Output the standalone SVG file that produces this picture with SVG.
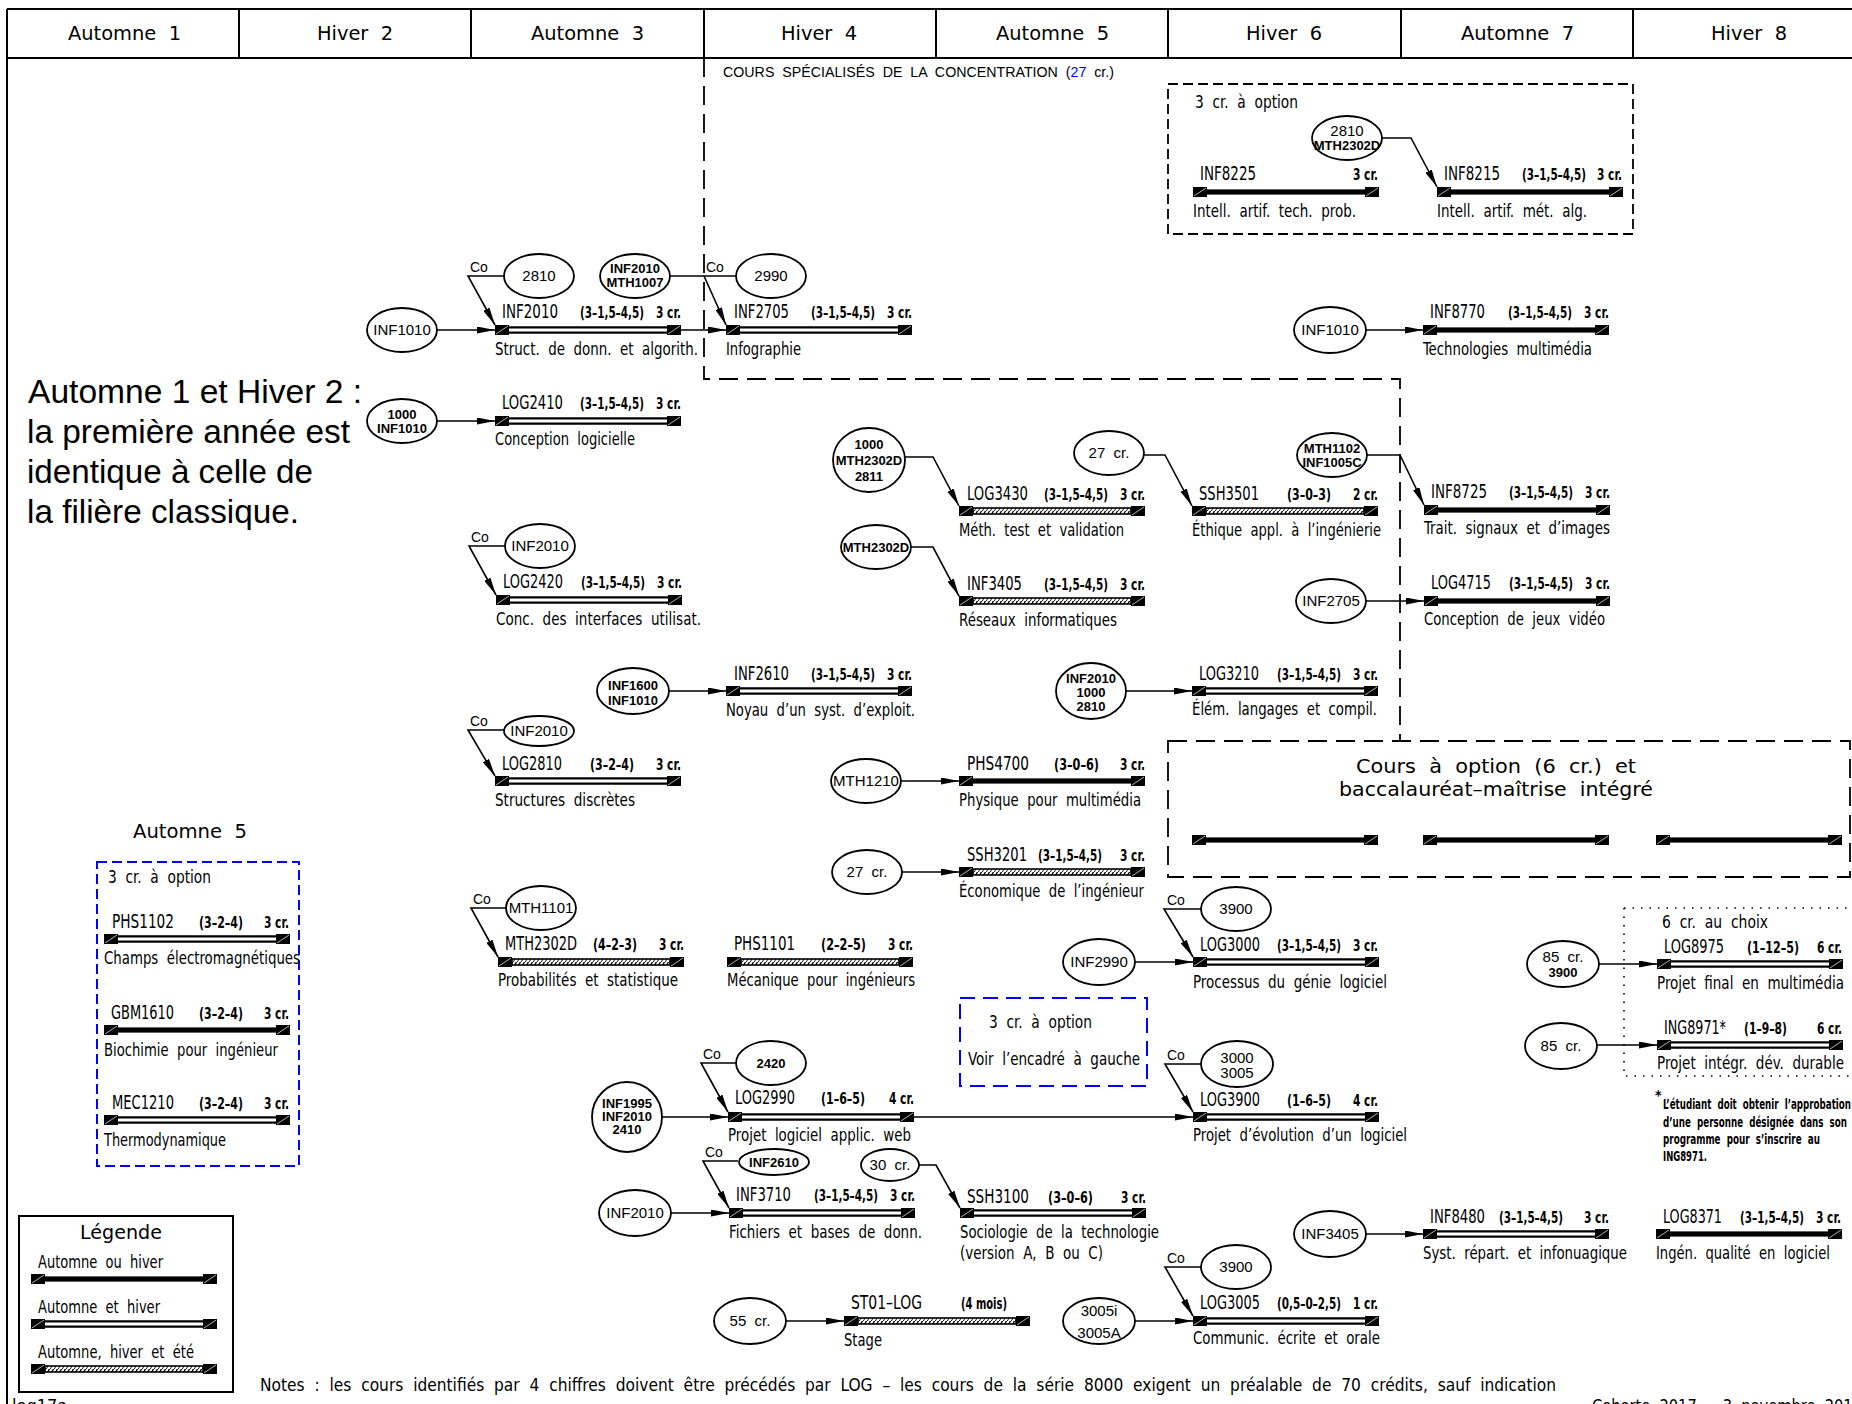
<svg xmlns="http://www.w3.org/2000/svg" width="1852" height="1404" viewBox="0 0 1852 1404" xml:space="preserve">
<style>
text{white-space:pre}
.hd{font-family:"DejaVu Sans","Liberation Sans",sans-serif;font-size:20px;fill:#000}
.cad{font-family:"Liberation Sans Narrow","DejaVu Sans Condensed","Liberation Sans",sans-serif;font-size:18px;fill:#000}
.code{font-size:19px}
.par{font-size:15px;font-weight:bold}
.fn{font-size:14px;font-weight:bold}
.el{font-family:"Liberation Sans","DejaVu Sans",sans-serif;font-size:15px;fill:#000;text-anchor:middle}
.el2{font-size:13px;font-weight:bold}
.co{font-family:"Liberation Sans",sans-serif;font-size:14px}
.big{font-family:"Liberation Sans",Arial,sans-serif;font-size:33px;fill:#000}
.conn{stroke:#000;stroke-width:1.6;fill:none}
.arr{marker-end:url(#ah)}
ellipse{fill:#fff;stroke:#000;stroke-width:1.8}
.frame{stroke:#000;stroke-width:2;fill:none}
.dash{stroke:#000;stroke-width:1.8;fill:none;stroke-dasharray:19 9}
.dash2{stroke:#000;stroke-width:1.8;fill:none;stroke-dasharray:10 5}
.blue{stroke:#0000ff;stroke-width:2;fill:none}
.sq{fill:#000}
.sd{stroke:#fff;stroke-width:0.7;fill:none}
</style>
<defs>
<marker id="ah" viewBox="0 0 18 7" refX="18" refY="3.5" markerWidth="18" markerHeight="7" markerUnits="userSpaceOnUse" orient="auto"><path d="M0,0 L18,3.5 L0,7 z" fill="#000"/></marker>
<pattern id="hatch" width="4" height="6" patternUnits="userSpaceOnUse"><rect width="4" height="6" fill="#fff"/><path d="M-1,6 L3,-1 M3,7 L7,0" stroke="#000" stroke-width="1.3"/></pattern>
<g id="sqs"><rect class="sq" x="0" y="-5" width="14" height="10"/><rect class="sq" x="172" y="-5" width="14" height="10"/><path class="sd" d="M1,4 L13,-4 M173,4 L185,-4"/></g>
<g id="bA"><use href="#sqs"/><rect x="14" y="-2.6" width="158" height="5.2" fill="#000"/></g>
<g id="bB"><use href="#sqs"/><path d="M14,-2.6 H172 M14,2.6 H172" stroke="#000" stroke-width="2.3"/></g>
<g id="bC"><use href="#sqs"/><rect x="14" y="-3" width="158" height="6" fill="url(#hatch)" stroke="#000" stroke-width="1.6"/></g>
</defs>
<rect width="1852" height="1404" fill="#fff"/>

<g id="header">
<path class="frame" d="M7,9 H1852 M7,58 H1852 M7,9 V1404 M239,9 V58 M471,9 V58 M704,9 V58 M936,9 V58 M1168,9 V58 M1401,9 V58 M1633,9 V58"/>
<text class="hd" x="68" y="40" textLength="113" lengthAdjust="spacingAndGlyphs">Automne  1</text>
<text class="hd" x="317" y="40" textLength="76" lengthAdjust="spacingAndGlyphs">Hiver  2</text>
<text class="hd" x="531" y="40" textLength="113" lengthAdjust="spacingAndGlyphs">Automne  3</text>
<text class="hd" x="781" y="40" textLength="76" lengthAdjust="spacingAndGlyphs">Hiver  4</text>
<text class="hd" x="996" y="40" textLength="113" lengthAdjust="spacingAndGlyphs">Automne  5</text>
<text class="hd" x="1246" y="40" textLength="76" lengthAdjust="spacingAndGlyphs">Hiver  6</text>
<text class="hd" x="1461" y="40" textLength="113" lengthAdjust="spacingAndGlyphs">Automne  7</text>
<text class="hd" x="1711" y="40" textLength="76" lengthAdjust="spacingAndGlyphs">Hiver  8</text>
</g>

<g id="regions">
<path class="dash" d="M704,58 V379 H1400 V741"/>
<text x="723" y="77" font-family="Liberation Sans,sans-serif" font-size="15" textLength="391" lengthAdjust="spacingAndGlyphs">COURS  SPÉCIALISÉS  DE  LA  CONCENTRATION  (<tspan fill="#0000ff">27</tspan>  cr.)</text>
<rect class="dash2" x="1168" y="84" width="465" height="150"/>
<text class="cad" x="1195" y="108" textLength="103" lengthAdjust="spacingAndGlyphs">3  cr.  à  option</text>
<rect class="dash" x="1168" y="741" width="682" height="136"/>
<text class="hd" x="1356" y="773" textLength="280" lengthAdjust="spacingAndGlyphs">Cours  à  option  (6  cr.)  et</text>
<text class="hd" x="1339" y="796" textLength="314" lengthAdjust="spacingAndGlyphs">baccalauréat–maîtrise  intégré</text>
<use href="#bA" x="1192" y="840"/>
<use href="#bA" x="1423" y="840"/>
<use href="#bA" x="1656" y="840"/>
<path d="M1624,908 H1852 M1624,908 V1076 H1852" stroke="#000" stroke-width="1.6" fill="none" stroke-dasharray="1.5 7"/>
<text class="cad" x="1662" y="928" textLength="106" lengthAdjust="spacingAndGlyphs">6  cr.  au  choix</text>
<rect class="blue" x="960" y="998" width="187" height="88" stroke-dasharray="15 8"/>
<text class="cad" x="989" y="1028" textLength="103" lengthAdjust="spacingAndGlyphs">3  cr.  à  option</text>
<text class="cad" x="968" y="1065" textLength="172" lengthAdjust="spacingAndGlyphs">Voir  l’encadré  à  gauche</text>
<text class="hd" x="133" y="838" textLength="114" lengthAdjust="spacingAndGlyphs">Automne  5</text>
<rect class="blue" x="97" y="862" width="202" height="304" stroke-dasharray="10 5"/>
<text class="cad" x="108" y="883" textLength="103" lengthAdjust="spacingAndGlyphs">3  cr.  à  option</text>
</g>

<g id="intro">
<text class="big" x="28" y="403" textLength="334" lengthAdjust="spacingAndGlyphs">Automne 1 et Hiver 2 :</text>
<text class="big" x="27" y="443" textLength="323" lengthAdjust="spacingAndGlyphs">la première année est</text>
<text class="big" x="27" y="483" textLength="286" lengthAdjust="spacingAndGlyphs">identique à celle de</text>
<text class="big" x="27" y="523" textLength="272" lengthAdjust="spacingAndGlyphs">la filière classique.</text>
</g>

<g id="connectors">
<path class="conn arr" d="M437,330 H495"/>
<path class="conn arr" d="M437,421 H495"/>
<path class="conn arr" d="M681,330 H726"/>
<path class="conn arr" d="M1366,330 H1423"/>
<path class="conn arr" d="M1366,601 H1424"/>
<path class="conn arr" d="M669,691 H726"/>
<path class="conn arr" d="M1126,691 H1192"/>
<path class="conn arr" d="M901,781 H959"/>
<path class="conn arr" d="M902,872 H959"/>
<path class="conn arr" d="M1135,962 H1193"/>
<path class="conn arr" d="M1599,964 H1657"/>
<path class="conn arr" d="M1597,1045 H1657"/>
<path class="conn arr" d="M662,1117 H728"/>
<path class="conn arr" d="M914,1117 H1193"/>
<path class="conn arr" d="M671,1213 H729"/>
<path class="conn arr" d="M1366,1234 H1423"/>
<path class="conn arr" d="M786,1321 H844"/>
<path class="conn arr" d="M1135,1321 H1193"/>
<path class="conn arr" d="M1381,138 H1411 L1437,187"/>
<path class="conn arr" d="M905,457 H933 L959,506"/>
<path class="conn arr" d="M1144,455 H1165 L1192,506"/>
<path class="conn arr" d="M1367,455 H1400 L1424,505"/>
<path class="conn arr" d="M911,547 H933 L959,596"/>
<path class="conn arr" d="M919,1165 H936 L960,1208"/>
<path class="conn arr" d="M504,276 H468 L495,325"/>
<path class="conn" d="M670,276 H736"/>
<path class="conn arr" d="M704,276 L726,325"/>
<path class="conn arr" d="M505,546 H469 L496,595"/>
<path class="conn arr" d="M504,730 H468 L495,776"/>
<path class="conn arr" d="M506,908 H471 L498,957"/>
<path class="conn arr" d="M1201,909 H1164 L1193,957"/>
<path class="conn arr" d="M736,1063 H701 L728,1112"/>
<path class="conn arr" d="M1201,1064 H1165 L1193,1112"/>
<path class="conn arr" d="M738,1161 H703 L729,1208"/>
<path class="conn arr" d="M1201,1267 H1165 L1193,1316"/>
<g class="co">
<text x="470" y="272">Co</text>
<text x="706" y="272">Co</text>
<text x="471" y="542">Co</text>
<text x="470" y="726">Co</text>
<text x="473" y="904">Co</text>
<text x="1167" y="905">Co</text>
<text x="703" y="1059">Co</text>
<text x="1167" y="1060">Co</text>
<text x="705" y="1157">Co</text>
<text x="1167" y="1263">Co</text>
</g>
</g>

<g id="prereqs">
<g id="e1"><ellipse cx="402" cy="330" rx="35" ry="22"/><text class="el" x="402" y="335">INF1010</text></g>
<g id="e2"><ellipse cx="402" cy="421" rx="35" ry="22"/><text class="el el2" x="402" y="419">1000</text><text class="el el2" x="402" y="433">INF1010</text></g>
<g id="e3"><ellipse cx="539" cy="276" rx="35" ry="22"/><text class="el" x="539" y="281">2810</text></g>
<g id="e4"><ellipse cx="635" cy="276" rx="35" ry="22"/><text class="el el2" x="635" y="273">INF2010</text><text class="el el2" x="635" y="287">MTH1007</text></g>
<g id="e5"><ellipse cx="771" cy="276" rx="35" ry="22"/><text class="el" x="771" y="281">2990</text></g>
<g id="e6"><ellipse cx="1347" cy="138" rx="35" ry="22"/><text class="el" x="1347" y="136">2810</text><text class="el el2" x="1347" y="150">MTH2302D</text></g>
<g id="e7"><ellipse cx="1330" cy="330" rx="36" ry="23"/><text class="el" x="1330" y="335">INF1010</text></g>
<g id="e8"><ellipse cx="869" cy="460" rx="36" ry="32"/><text class="el el2" x="869" y="449" font-size="12">1000</text><text class="el el2" x="869" y="465" font-size="12">MTH2302D</text><text class="el el2" x="869" y="481" font-size="12">2811</text></g>
<g id="e9"><ellipse cx="1109" cy="453" rx="35" ry="22"/><text class="el" x="1109" y="458">27  cr.</text></g>
<g id="e10"><ellipse cx="1332" cy="455" rx="35" ry="22"/><text class="el el2" x="1332" y="453">MTH1102</text><text class="el el2" x="1332" y="467">INF1005C</text></g>
<g id="e11"><ellipse cx="540" cy="546" rx="35" ry="22"/><text class="el" x="540" y="551">INF2010</text></g>
<g id="e12"><ellipse cx="876" cy="547" rx="35" ry="22"/><text class="el el2" x="876" y="552">MTH2302D</text></g>
<g id="e13"><ellipse cx="1331" cy="601" rx="35" ry="22"/><text class="el" x="1331" y="606">INF2705</text></g>
<g id="e14"><ellipse cx="633" cy="691" rx="36" ry="23"/><text class="el el2" x="633" y="690">INF1600</text><text class="el el2" x="633" y="705">INF1010</text></g>
<g id="e15"><ellipse cx="1091" cy="691" rx="35" ry="28"/><text class="el el2" x="1091" y="683">INF2010</text><text class="el el2" x="1091" y="697">1000</text><text class="el el2" x="1091" y="711">2810</text></g>
<g id="e16"><ellipse cx="539" cy="731" rx="35" ry="15"/><text class="el" x="539" y="736">INF2010</text></g>
<g id="e17"><ellipse cx="866" cy="781" rx="35" ry="22"/><text class="el" x="866" y="786">MTH1210</text></g>
<g id="e18"><ellipse cx="867" cy="872" rx="35" ry="22"/><text class="el" x="867" y="877">27  cr.</text></g>
<g id="e19"><ellipse cx="541" cy="908" rx="35" ry="22"/><text class="el" x="541" y="913">MTH1101</text></g>
<g id="e20"><ellipse cx="1236" cy="909" rx="35" ry="22"/><text class="el" x="1236" y="914">3900</text></g>
<g id="e21"><ellipse cx="1099" cy="962" rx="36" ry="23"/><text class="el" x="1099" y="967">INF2990</text></g>
<g id="e22"><ellipse cx="1563" cy="964" rx="36" ry="23"/><text class="el" x="1563" y="962">85  cr.</text><text class="el el2" x="1563" y="977">3900</text></g>
<g id="e23"><ellipse cx="1561" cy="1046" rx="36" ry="23"/><text class="el" x="1561" y="1051">85  cr.</text></g>
<g id="e24"><ellipse cx="771" cy="1063" rx="35" ry="22"/><text class="el el2" x="771" y="1068">2420</text></g>
<g id="e25"><ellipse cx="1237" cy="1064" rx="36" ry="23"/><text class="el" x="1237" y="1063">3000</text><text class="el" x="1237" y="1078">3005</text></g>
<g id="e26"><ellipse cx="627" cy="1117" rx="35" ry="35"/><text class="el el2" x="627" y="1108">INF1995</text><text class="el el2" x="627" y="1121">INF2010</text><text class="el el2" x="627" y="1134">2410</text></g>
<g id="e27"><ellipse cx="774" cy="1162" rx="35" ry="13"/><text class="el el2" x="774" y="1167">INF2610</text></g>
<g id="e28"><ellipse cx="890" cy="1165" rx="29" ry="16"/><text class="el" x="890" y="1170">30  cr.</text></g>
<g id="e29"><ellipse cx="635" cy="1213" rx="36" ry="23"/><text class="el" x="635" y="1218">INF2010</text></g>
<g id="e30"><ellipse cx="1330" cy="1234" rx="36" ry="23"/><text class="el" x="1330" y="1239">INF3405</text></g>
<g id="e31"><ellipse cx="750" cy="1321" rx="36" ry="23"/><text class="el" x="750" y="1326">55  cr.</text></g>
<g id="e32"><ellipse cx="1099" cy="1321" rx="36" ry="23"/><text class="el" x="1099" y="1316">3005i</text><text class="el" x="1099" y="1338">3005A</text></g>
<g id="e33"><ellipse cx="1236" cy="1267" rx="35" ry="22"/><text class="el" x="1236" y="1272">3900</text></g>
</g>

<g id="courses">
<g id="INF2010"><use href="#bB" x="495" y="330"/><text class="cad code" x="502" y="318" textLength="56" lengthAdjust="spacingAndGlyphs">INF2010</text><text class="cad par" x="580" y="318" textLength="64" lengthAdjust="spacingAndGlyphs">(3–1,5–4,5)</text><text class="cad par" x="656" y="318" textLength="25" lengthAdjust="spacingAndGlyphs">3 cr.</text><text class="cad" x="495" y="355" textLength="203" lengthAdjust="spacingAndGlyphs">Struct.  de  donn.  et  algorith.</text></g>
<g id="INF2705"><use href="#bB" x="726" y="330"/><text class="cad code" x="734" y="318" textLength="55" lengthAdjust="spacingAndGlyphs">INF2705</text><text class="cad par" x="811" y="318" textLength="64" lengthAdjust="spacingAndGlyphs">(3–1,5–4,5)</text><text class="cad par" x="887" y="318" textLength="25" lengthAdjust="spacingAndGlyphs">3 cr.</text><text class="cad" x="726" y="355" textLength="75" lengthAdjust="spacingAndGlyphs">Infographie</text></g>
<g id="LOG2410"><use href="#bB" x="495" y="421"/><text class="cad code" x="502" y="409" textLength="61" lengthAdjust="spacingAndGlyphs">LOG2410</text><text class="cad par" x="580" y="409" textLength="64" lengthAdjust="spacingAndGlyphs">(3–1,5–4,5)</text><text class="cad par" x="656" y="409" textLength="25" lengthAdjust="spacingAndGlyphs">3 cr.</text><text class="cad" x="495" y="445" textLength="140" lengthAdjust="spacingAndGlyphs">Conception  logicielle</text></g>
<g id="INF8225"><use href="#bA" x="1193" y="192"/><text class="cad code" x="1200" y="180" textLength="56" lengthAdjust="spacingAndGlyphs">INF8225</text><text class="cad par" x="1353" y="180" textLength="25" lengthAdjust="spacingAndGlyphs">3 cr.</text><text class="cad" x="1193" y="217" textLength="163" lengthAdjust="spacingAndGlyphs">Intell.  artif.  tech.  prob.</text></g>
<g id="INF8215"><use href="#bA" x="1437" y="192"/><text class="cad code" x="1444" y="180" textLength="56" lengthAdjust="spacingAndGlyphs">INF8215</text><text class="cad par" x="1522" y="180" textLength="64" lengthAdjust="spacingAndGlyphs">(3–1,5–4,5)</text><text class="cad par" x="1597" y="180" textLength="25" lengthAdjust="spacingAndGlyphs">3 cr.</text><text class="cad" x="1437" y="217" textLength="150" lengthAdjust="spacingAndGlyphs">Intell.  artif.  mét.  alg.</text></g>
<g id="INF8770"><use href="#bA" x="1423" y="330"/><text class="cad code" x="1430" y="318" textLength="55" lengthAdjust="spacingAndGlyphs">INF8770</text><text class="cad par" x="1508" y="318" textLength="64" lengthAdjust="spacingAndGlyphs">(3–1,5–4,5)</text><text class="cad par" x="1584" y="318" textLength="25" lengthAdjust="spacingAndGlyphs">3 cr.</text><text class="cad" x="1423" y="355" textLength="169" lengthAdjust="spacingAndGlyphs">Technologies  multimédia</text></g>
<g id="LOG3430"><use href="#bC" x="959" y="511"/><text class="cad code" x="967" y="500" textLength="61" lengthAdjust="spacingAndGlyphs">LOG3430</text><text class="cad par" x="1044" y="500" textLength="64" lengthAdjust="spacingAndGlyphs">(3–1,5–4,5)</text><text class="cad par" x="1120" y="500" textLength="25" lengthAdjust="spacingAndGlyphs">3 cr.</text><text class="cad" x="959" y="536" textLength="165" lengthAdjust="spacingAndGlyphs">Méth.  test  et  validation</text></g>
<g id="SSH3501"><use href="#bC" x="1192" y="511"/><text class="cad code" x="1199" y="500" textLength="60" lengthAdjust="spacingAndGlyphs">SSH3501</text><text class="cad par" x="1287" y="500" textLength="44" lengthAdjust="spacingAndGlyphs">(3–0–3)</text><text class="cad par" x="1353" y="500" textLength="25" lengthAdjust="spacingAndGlyphs">2 cr.</text><text class="cad" x="1192" y="536" textLength="189" lengthAdjust="spacingAndGlyphs">Éthique  appl.  à  l’ingénierie</text></g>
<g id="INF8725"><use href="#bA" x="1424" y="510"/><text class="cad code" x="1431" y="498" textLength="56" lengthAdjust="spacingAndGlyphs">INF8725</text><text class="cad par" x="1509" y="498" textLength="64" lengthAdjust="spacingAndGlyphs">(3–1,5–4,5)</text><text class="cad par" x="1585" y="498" textLength="25" lengthAdjust="spacingAndGlyphs">3 cr.</text><text class="cad" x="1424" y="534" textLength="186" lengthAdjust="spacingAndGlyphs">Trait.  signaux  et  d’images</text></g>
<g id="LOG2420"><use href="#bB" x="496" y="600"/><text class="cad code" x="503" y="588" textLength="60" lengthAdjust="spacingAndGlyphs">LOG2420</text><text class="cad par" x="581" y="588" textLength="64" lengthAdjust="spacingAndGlyphs">(3–1,5–4,5)</text><text class="cad par" x="657" y="588" textLength="25" lengthAdjust="spacingAndGlyphs">3 cr.</text><text class="cad" x="496" y="625" textLength="205" lengthAdjust="spacingAndGlyphs">Conc.  des  interfaces  utilisat.</text></g>
<g id="INF3405"><use href="#bC" x="959" y="601"/><text class="cad code" x="967" y="590" textLength="55" lengthAdjust="spacingAndGlyphs">INF3405</text><text class="cad par" x="1044" y="590" textLength="64" lengthAdjust="spacingAndGlyphs">(3–1,5–4,5)</text><text class="cad par" x="1120" y="590" textLength="25" lengthAdjust="spacingAndGlyphs">3 cr.</text><text class="cad" x="959" y="626" textLength="158" lengthAdjust="spacingAndGlyphs">Réseaux  informatiques</text></g>
<g id="LOG4715"><use href="#bA" x="1424" y="601"/><text class="cad code" x="1431" y="589" textLength="60" lengthAdjust="spacingAndGlyphs">LOG4715</text><text class="cad par" x="1509" y="589" textLength="64" lengthAdjust="spacingAndGlyphs">(3–1,5–4,5)</text><text class="cad par" x="1585" y="589" textLength="25" lengthAdjust="spacingAndGlyphs">3 cr.</text><text class="cad" x="1424" y="625" textLength="181" lengthAdjust="spacingAndGlyphs">Conception  de  jeux  vidéo</text></g>
<g id="INF2610"><use href="#bB" x="726" y="691"/><text class="cad code" x="734" y="680" textLength="55" lengthAdjust="spacingAndGlyphs">INF2610</text><text class="cad par" x="811" y="680" textLength="64" lengthAdjust="spacingAndGlyphs">(3–1,5–4,5)</text><text class="cad par" x="887" y="680" textLength="25" lengthAdjust="spacingAndGlyphs">3 cr.</text><text class="cad" x="726" y="716" textLength="189" lengthAdjust="spacingAndGlyphs">Noyau  d’un  syst.  d’exploit.</text></g>
<g id="LOG3210"><use href="#bB" x="1192" y="691"/><text class="cad code" x="1199" y="680" textLength="60" lengthAdjust="spacingAndGlyphs">LOG3210</text><text class="cad par" x="1277" y="680" textLength="64" lengthAdjust="spacingAndGlyphs">(3–1,5–4,5)</text><text class="cad par" x="1353" y="680" textLength="25" lengthAdjust="spacingAndGlyphs">3 cr.</text><text class="cad" x="1192" y="715" textLength="185" lengthAdjust="spacingAndGlyphs">Élém.  langages  et  compil.</text></g>
<g id="LOG2810"><use href="#bB" x="495" y="781"/><text class="cad code" x="502" y="770" textLength="60" lengthAdjust="spacingAndGlyphs">LOG2810</text><text class="cad par" x="590" y="770" textLength="44" lengthAdjust="spacingAndGlyphs">(3–2–4)</text><text class="cad par" x="656" y="770" textLength="25" lengthAdjust="spacingAndGlyphs">3 cr.</text><text class="cad" x="495" y="806" textLength="140" lengthAdjust="spacingAndGlyphs">Structures  discrètes</text></g>
<g id="PHS4700"><use href="#bA" x="959" y="781"/><text class="cad code" x="967" y="770" textLength="62" lengthAdjust="spacingAndGlyphs">PHS4700</text><text class="cad par" x="1054" y="770" textLength="45" lengthAdjust="spacingAndGlyphs">(3–0–6)</text><text class="cad par" x="1120" y="770" textLength="25" lengthAdjust="spacingAndGlyphs">3 cr.</text><text class="cad" x="959" y="806" textLength="182" lengthAdjust="spacingAndGlyphs">Physique  pour  multimédia</text></g>
<g id="SSH3201"><use href="#bC" x="959" y="872"/><text class="cad code" x="967" y="861" textLength="60" lengthAdjust="spacingAndGlyphs">SSH3201</text><text class="cad par" x="1038" y="861" textLength="64" lengthAdjust="spacingAndGlyphs">(3–1,5–4,5)</text><text class="cad par" x="1120" y="861" textLength="25" lengthAdjust="spacingAndGlyphs">3 cr.</text><text class="cad" x="959" y="897" textLength="185" lengthAdjust="spacingAndGlyphs">Économique  de  l’ingénieur</text></g>
<g id="MTH2302D"><use href="#bC" x="498" y="962"/><text class="cad code" x="505" y="950" textLength="72" lengthAdjust="spacingAndGlyphs">MTH2302D</text><text class="cad par" x="593" y="950" textLength="44" lengthAdjust="spacingAndGlyphs">(4–2–3)</text><text class="cad par" x="659" y="950" textLength="25" lengthAdjust="spacingAndGlyphs">3 cr.</text><text class="cad" x="498" y="986" textLength="180" lengthAdjust="spacingAndGlyphs">Probabilités  et  statistique</text></g>
<g id="PHS1101"><use href="#bC" x="727" y="962"/><text class="cad code" x="734" y="950" textLength="61" lengthAdjust="spacingAndGlyphs">PHS1101</text><text class="cad par" x="821" y="950" textLength="45" lengthAdjust="spacingAndGlyphs">(2–2–5)</text><text class="cad par" x="888" y="950" textLength="25" lengthAdjust="spacingAndGlyphs">3 cr.</text><text class="cad" x="727" y="986" textLength="188" lengthAdjust="spacingAndGlyphs">Mécanique  pour  ingénieurs</text></g>
<g id="LOG3000"><use href="#bB" x="1193" y="962"/><text class="cad code" x="1200" y="951" textLength="60" lengthAdjust="spacingAndGlyphs">LOG3000</text><text class="cad par" x="1277" y="951" textLength="64" lengthAdjust="spacingAndGlyphs">(3–1,5–4,5)</text><text class="cad par" x="1353" y="951" textLength="25" lengthAdjust="spacingAndGlyphs">3 cr.</text><text class="cad" x="1193" y="988" textLength="194" lengthAdjust="spacingAndGlyphs">Processus  du  génie  logiciel</text></g>
<g id="LOG8975"><use href="#bB" x="1657" y="964"/><text class="cad code" x="1664" y="953" textLength="60" lengthAdjust="spacingAndGlyphs">LOG8975</text><text class="cad par" x="1747" y="953" textLength="52" lengthAdjust="spacingAndGlyphs">(1–12–5)</text><text class="cad par" x="1817" y="953" textLength="25" lengthAdjust="spacingAndGlyphs">6 cr.</text><text class="cad" x="1657" y="989" textLength="187" lengthAdjust="spacingAndGlyphs">Projet  final  en  multimédia</text></g>
<g id="ING8971"><use href="#bB" x="1657" y="1045"/><text class="cad code" x="1664" y="1034" textLength="62" lengthAdjust="spacingAndGlyphs">ING8971*</text><text class="cad par" x="1744" y="1034" textLength="43" lengthAdjust="spacingAndGlyphs">(1–9–8)</text><text class="cad par" x="1817" y="1034" textLength="25" lengthAdjust="spacingAndGlyphs">6 cr.</text><text class="cad" x="1657" y="1069" textLength="187" lengthAdjust="spacingAndGlyphs">Projet  intégr.  dév.  durable</text></g>
<g id="LOG2990"><use href="#bB" x="728" y="1117"/><text class="cad code" x="735" y="1104" textLength="60" lengthAdjust="spacingAndGlyphs">LOG2990</text><text class="cad par" x="821" y="1104" textLength="44" lengthAdjust="spacingAndGlyphs">(1–6–5)</text><text class="cad par" x="889" y="1104" textLength="25" lengthAdjust="spacingAndGlyphs">4 cr.</text><text class="cad" x="728" y="1141" textLength="183" lengthAdjust="spacingAndGlyphs">Projet  logiciel  applic.  web</text></g>
<g id="LOG3900"><use href="#bB" x="1193" y="1117"/><text class="cad code" x="1200" y="1106" textLength="60" lengthAdjust="spacingAndGlyphs">LOG3900</text><text class="cad par" x="1287" y="1106" textLength="44" lengthAdjust="spacingAndGlyphs">(1–6–5)</text><text class="cad par" x="1353" y="1106" textLength="25" lengthAdjust="spacingAndGlyphs">4 cr.</text><text class="cad" x="1193" y="1141" textLength="214" lengthAdjust="spacingAndGlyphs">Projet  d’évolution  d’un  logiciel</text></g>
<g id="INF3710"><use href="#bB" x="729" y="1213"/><text class="cad code" x="736" y="1201" textLength="55" lengthAdjust="spacingAndGlyphs">INF3710</text><text class="cad par" x="814" y="1201" textLength="64" lengthAdjust="spacingAndGlyphs">(3–1,5–4,5)</text><text class="cad par" x="890" y="1201" textLength="25" lengthAdjust="spacingAndGlyphs">3 cr.</text><text class="cad" x="729" y="1238" textLength="193" lengthAdjust="spacingAndGlyphs">Fichiers  et  bases  de  donn.</text></g>
<g id="SSH3100"><use href="#bB" x="960" y="1213"/><text class="cad code" x="967" y="1203" textLength="62" lengthAdjust="spacingAndGlyphs">SSH3100</text><text class="cad par" x="1048" y="1203" textLength="45" lengthAdjust="spacingAndGlyphs">(3–0–6)</text><text class="cad par" x="1121" y="1203" textLength="25" lengthAdjust="spacingAndGlyphs">3 cr.</text><text class="cad" x="960" y="1238" textLength="199" lengthAdjust="spacingAndGlyphs">Sociologie  de  la  technologie</text><text class="cad" x="960" y="1259" textLength="143" lengthAdjust="spacingAndGlyphs">(version  A,  B  ou  C)</text></g>
<g id="INF8480"><use href="#bB" x="1423" y="1234"/><text class="cad code" x="1430" y="1223" textLength="55" lengthAdjust="spacingAndGlyphs">INF8480</text><text class="cad par" x="1499" y="1223" textLength="64" lengthAdjust="spacingAndGlyphs">(3–1,5–4,5)</text><text class="cad par" x="1584" y="1223" textLength="25" lengthAdjust="spacingAndGlyphs">3 cr.</text><text class="cad" x="1423" y="1259" textLength="204" lengthAdjust="spacingAndGlyphs">Syst.  répart.  et  infonuagique</text></g>
<g id="LOG8371"><use href="#bA" x="1656" y="1234"/><text class="cad code" x="1663" y="1223" textLength="59" lengthAdjust="spacingAndGlyphs">LOG8371</text><text class="cad par" x="1740" y="1223" textLength="64" lengthAdjust="spacingAndGlyphs">(3–1,5–4,5)</text><text class="cad par" x="1816" y="1223" textLength="25" lengthAdjust="spacingAndGlyphs">3 cr.</text><text class="cad" x="1656" y="1259" textLength="174" lengthAdjust="spacingAndGlyphs">Ingén.  qualité  en  logiciel</text></g>
<g id="ST01-LOG"><use href="#bC" x="844" y="1321"/><text class="cad code" x="851" y="1309" textLength="71" lengthAdjust="spacingAndGlyphs">ST01–LOG</text><text class="cad par" x="961" y="1309" textLength="46" lengthAdjust="spacingAndGlyphs">(4 mois)</text><text class="cad" x="844" y="1346" textLength="38" lengthAdjust="spacingAndGlyphs">Stage</text></g>
<g id="LOG3005"><use href="#bB" x="1193" y="1321"/><text class="cad code" x="1200" y="1309" textLength="60" lengthAdjust="spacingAndGlyphs">LOG3005</text><text class="cad par" x="1277" y="1309" textLength="64" lengthAdjust="spacingAndGlyphs">(0,5–0–2,5)</text><text class="cad par" x="1353" y="1309" textLength="25" lengthAdjust="spacingAndGlyphs">1 cr.</text><text class="cad" x="1193" y="1344" textLength="187" lengthAdjust="spacingAndGlyphs">Communic.  écrite  et  orale</text></g>
<g id="PHS1102"><use href="#bB" x="104" y="939"/><text class="cad code" x="112" y="928" textLength="62" lengthAdjust="spacingAndGlyphs">PHS1102</text><text class="cad par" x="199" y="928" textLength="44" lengthAdjust="spacingAndGlyphs">(3–2–4)</text><text class="cad par" x="264" y="928" textLength="25" lengthAdjust="spacingAndGlyphs">3 cr.</text><text class="cad" x="104" y="964" textLength="196" lengthAdjust="spacingAndGlyphs">Champs  électromagnétiques</text></g>
<g id="GBM1610"><use href="#bA" x="104" y="1030"/><text class="cad code" x="111" y="1019" textLength="63" lengthAdjust="spacingAndGlyphs">GBM1610</text><text class="cad par" x="199" y="1019" textLength="44" lengthAdjust="spacingAndGlyphs">(3–2–4)</text><text class="cad par" x="264" y="1019" textLength="25" lengthAdjust="spacingAndGlyphs">3 cr.</text><text class="cad" x="104" y="1056" textLength="174" lengthAdjust="spacingAndGlyphs">Biochimie  pour  ingénieur</text></g>
<g id="MEC1210"><use href="#bB" x="104" y="1120"/><text class="cad code" x="112" y="1109" textLength="62" lengthAdjust="spacingAndGlyphs">MEC1210</text><text class="cad par" x="199" y="1109" textLength="44" lengthAdjust="spacingAndGlyphs">(3–2–4)</text><text class="cad par" x="264" y="1109" textLength="25" lengthAdjust="spacingAndGlyphs">3 cr.</text><text class="cad" x="104" y="1146" textLength="122" lengthAdjust="spacingAndGlyphs">Thermodynamique</text></g>
</g>

<g id="legend">
<rect class="frame" x="19" y="1216" width="214" height="176"/>
<text class="hd" x="80" y="1239" textLength="82" lengthAdjust="spacingAndGlyphs">Légende</text>
<text class="cad" x="38" y="1268" textLength="125" lengthAdjust="spacingAndGlyphs">Automne  ou  hiver</text>
<use href="#bA" x="31" y="1279"/>
<text class="cad" x="38" y="1313" textLength="122" lengthAdjust="spacingAndGlyphs">Automne  et  hiver</text>
<use href="#bB" x="31" y="1324"/>
<text class="cad" x="38" y="1358" textLength="156" lengthAdjust="spacingAndGlyphs">Automne,  hiver  et  été</text>
<use href="#bC" x="31" y="1369"/>
</g>

<g id="notes">
<text class="cad fn" x="1655" y="1100" font-size="16">*</text>
<text class="cad fn" x="1663" y="1109" textLength="188" lengthAdjust="spacingAndGlyphs">L’étudiant  doit  obtenir  l’approbation</text>
<text class="cad fn" x="1663" y="1127" textLength="184" lengthAdjust="spacingAndGlyphs">d’une  personne  désignée  dans  son</text>
<text class="cad fn" x="1663" y="1144" textLength="157" lengthAdjust="spacingAndGlyphs">programme  pour  s’inscrire  au</text>
<text class="cad fn" x="1663" y="1161" textLength="44" lengthAdjust="spacingAndGlyphs">ING8971.</text>
<text class="cad" x="260" y="1391" textLength="1296" lengthAdjust="spacingAndGlyphs">Notes  :  les  cours  identifiés  par  4  chiffres  doivent  être  précédés  par  LOG  –  les  cours  de  la  série  8000  exigent  un  préalable  de  70  crédits,  sauf  indication</text>
<text class="cad" x="1592" y="1412" textLength="270" lengthAdjust="spacingAndGlyphs">Cohorte  2017  –  3  novembre  2017</text>
<text class="cad" x="12" y="1412">log17a</text>
</g>
</svg>
